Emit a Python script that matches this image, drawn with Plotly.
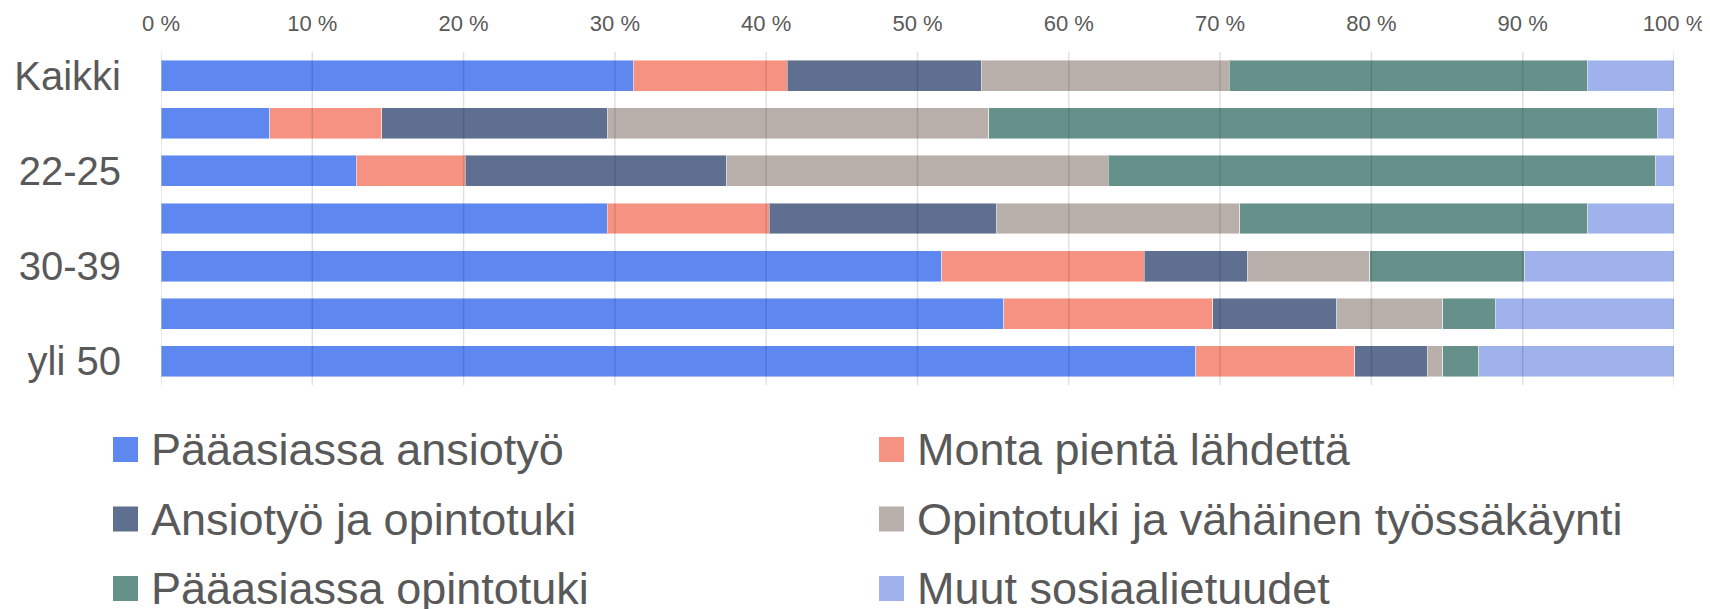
import plotly.graph_objects as go

# ---------------- data ----------------
categories = ["Kaikki", "alle 22", "22-25", "26-29", "30-39", "40-49", "yli 50"]
shown_labels = ["Kaikki", "22-25", "30-39", "yli 50"]

series_names = [
    "Pääasiassa ansiotyö",
    "Monta pientä lähdettä",
    "Ansiotyö ja opintotuki",
    "Opintotuki ja vähäinen työssäkäynti",
    "Pääasiassa opintotuki",
    "Muut sosiaalietuudet",
]
paaasiassa_ansiotyo = [31.2, 7.2, 12.9, 29.5, 51.6, 55.7, 68.4]
monta_pienta_lahdetta = [10.2, 7.4, 7.2, 10.7, 13.4, 13.8, 10.5]
ansiotyo_ja_opintotuki = [12.8, 14.9, 17.3, 15.0, 6.8, 8.2, 4.8]
opintotuki_ja_vahainen = [16.4, 25.2, 25.2, 16.1, 8.1, 7.0, 1.0]
paaasiassa_opintotuki = [23.65, 44.2, 36.2, 23.0, 10.2, 3.5, 2.4]
muut_sosiaalietuudet = [5.75, 1.1, 1.2, 5.7, 9.9, 11.8, 12.9]
series_values = [
    paaasiassa_ansiotyo,
    monta_pienta_lahdetta,
    ansiotyo_ja_opintotuki,
    opintotuki_ja_vahainen,
    paaasiassa_opintotuki,
    muut_sosiaalietuudet,
]
x_ticks = [0, 10, 20, 30, 40, 50, 60, 70, 80, 90, 100]
x_tick_labels = ["0 %", "10 %", "20 %", "30 %", "40 %", "50 %", "60 %", "70 %", "80 %", "90 %", "100 %"]

# ---------------- styles ----------------
colors = ["#5E88EF", "#F69282", "#5E6F8F", "#B9AFAA", "#66918A", "#A0B2EB"]
FONT = "Liberation Sans, Arial, sans-serif"
TEXT = "#595959"
OFF = 8  # page body margin in the browser
W, H = 1710, 609
# target plot area in screen pixels
SX0, SX1, SY0, SY1 = 161, 1674, 52, 385
L = SX0 - OFF
T = SY0 - OFF
R = W - (SX1 - OFF)
B = H - (SY1 - OFF)
plot_w = SX1 - SX0
plot_h = SY1 - SY0


def px_x(px):
    return (px - SX0) / plot_w


def px_y(py):
    return (SY1 - py) / plot_h


fig = go.Figure()
for name, vals, col in zip(series_names, series_values, colors):
    fig.add_trace(go.Bar(
        y=categories, x=vals, name=name, orientation="h",
        marker=dict(color=col, line=dict(color="rgba(255,255,255,0.45)", width=1)),
        showlegend=False,
    ))

shapes = []
for t in x_ticks:
    shapes.append(dict(type="line", xref="x", yref="paper", x0=t, x1=t, y0=0, y1=1,
                       line=dict(color="rgba(0,0,0,0.12)", width=1.5), layer="above"))

# custom legend (two columns, three rows), screen pixel positions
col_x = [113, 879]
row_y = [449.5, 519, 588.5]
sq = 25
annotations = []
for i, (name, col) in enumerate(zip(series_names, colors)):
    cx = col_x[i % 2]
    cy = row_y[i // 2]
    shapes.append(dict(type="rect", xref="paper", yref="paper",
                       x0=px_x(cx), x1=px_x(cx + sq), y0=px_y(cy - sq / 2), y1=px_y(cy + sq / 2),
                       fillcolor=col, line=dict(width=0), layer="above"))
    annotations.append(dict(xref="paper", yref="paper", x=px_x(cx + 36), y=px_y(cy),
                            text=name, showarrow=False, xanchor="left", yanchor="middle",
                            font=dict(family=FONT, size=45, color=TEXT)))

fig.update_layout(
    barmode="stack",
    bargap=0.35,
    width=W, height=H,
    margin=dict(l=L, r=R, t=T, b=B, pad=0, autoexpand=False),
    paper_bgcolor="white", plot_bgcolor="white",
    font=dict(family=FONT, color=TEXT, size=22),
    shapes=shapes,
    annotations=annotations,
    showlegend=False,
)
fig.update_xaxes(
    side="top", range=[0, 100], tickmode="array", tickvals=x_ticks, ticktext=x_tick_labels,
    showgrid=False, zeroline=False, showline=False, ticks="", automargin=False,
    tickfont=dict(family=FONT, size=22, color=TEXT),
    ticklabelstandoff=16, fixedrange=True,
)
fig.update_yaxes(
    type="category", categoryorder="array", categoryarray=categories,
    autorange="reversed", tickmode="array", tickvals=shown_labels, ticktext=shown_labels,
    showgrid=False, zeroline=False, showline=False, ticks="", automargin=False,
    tickfont=dict(family=FONT, size=40, color=TEXT),
    ticklabelstandoff=39, fixedrange=True,
)

fig.write_html("out.html")
